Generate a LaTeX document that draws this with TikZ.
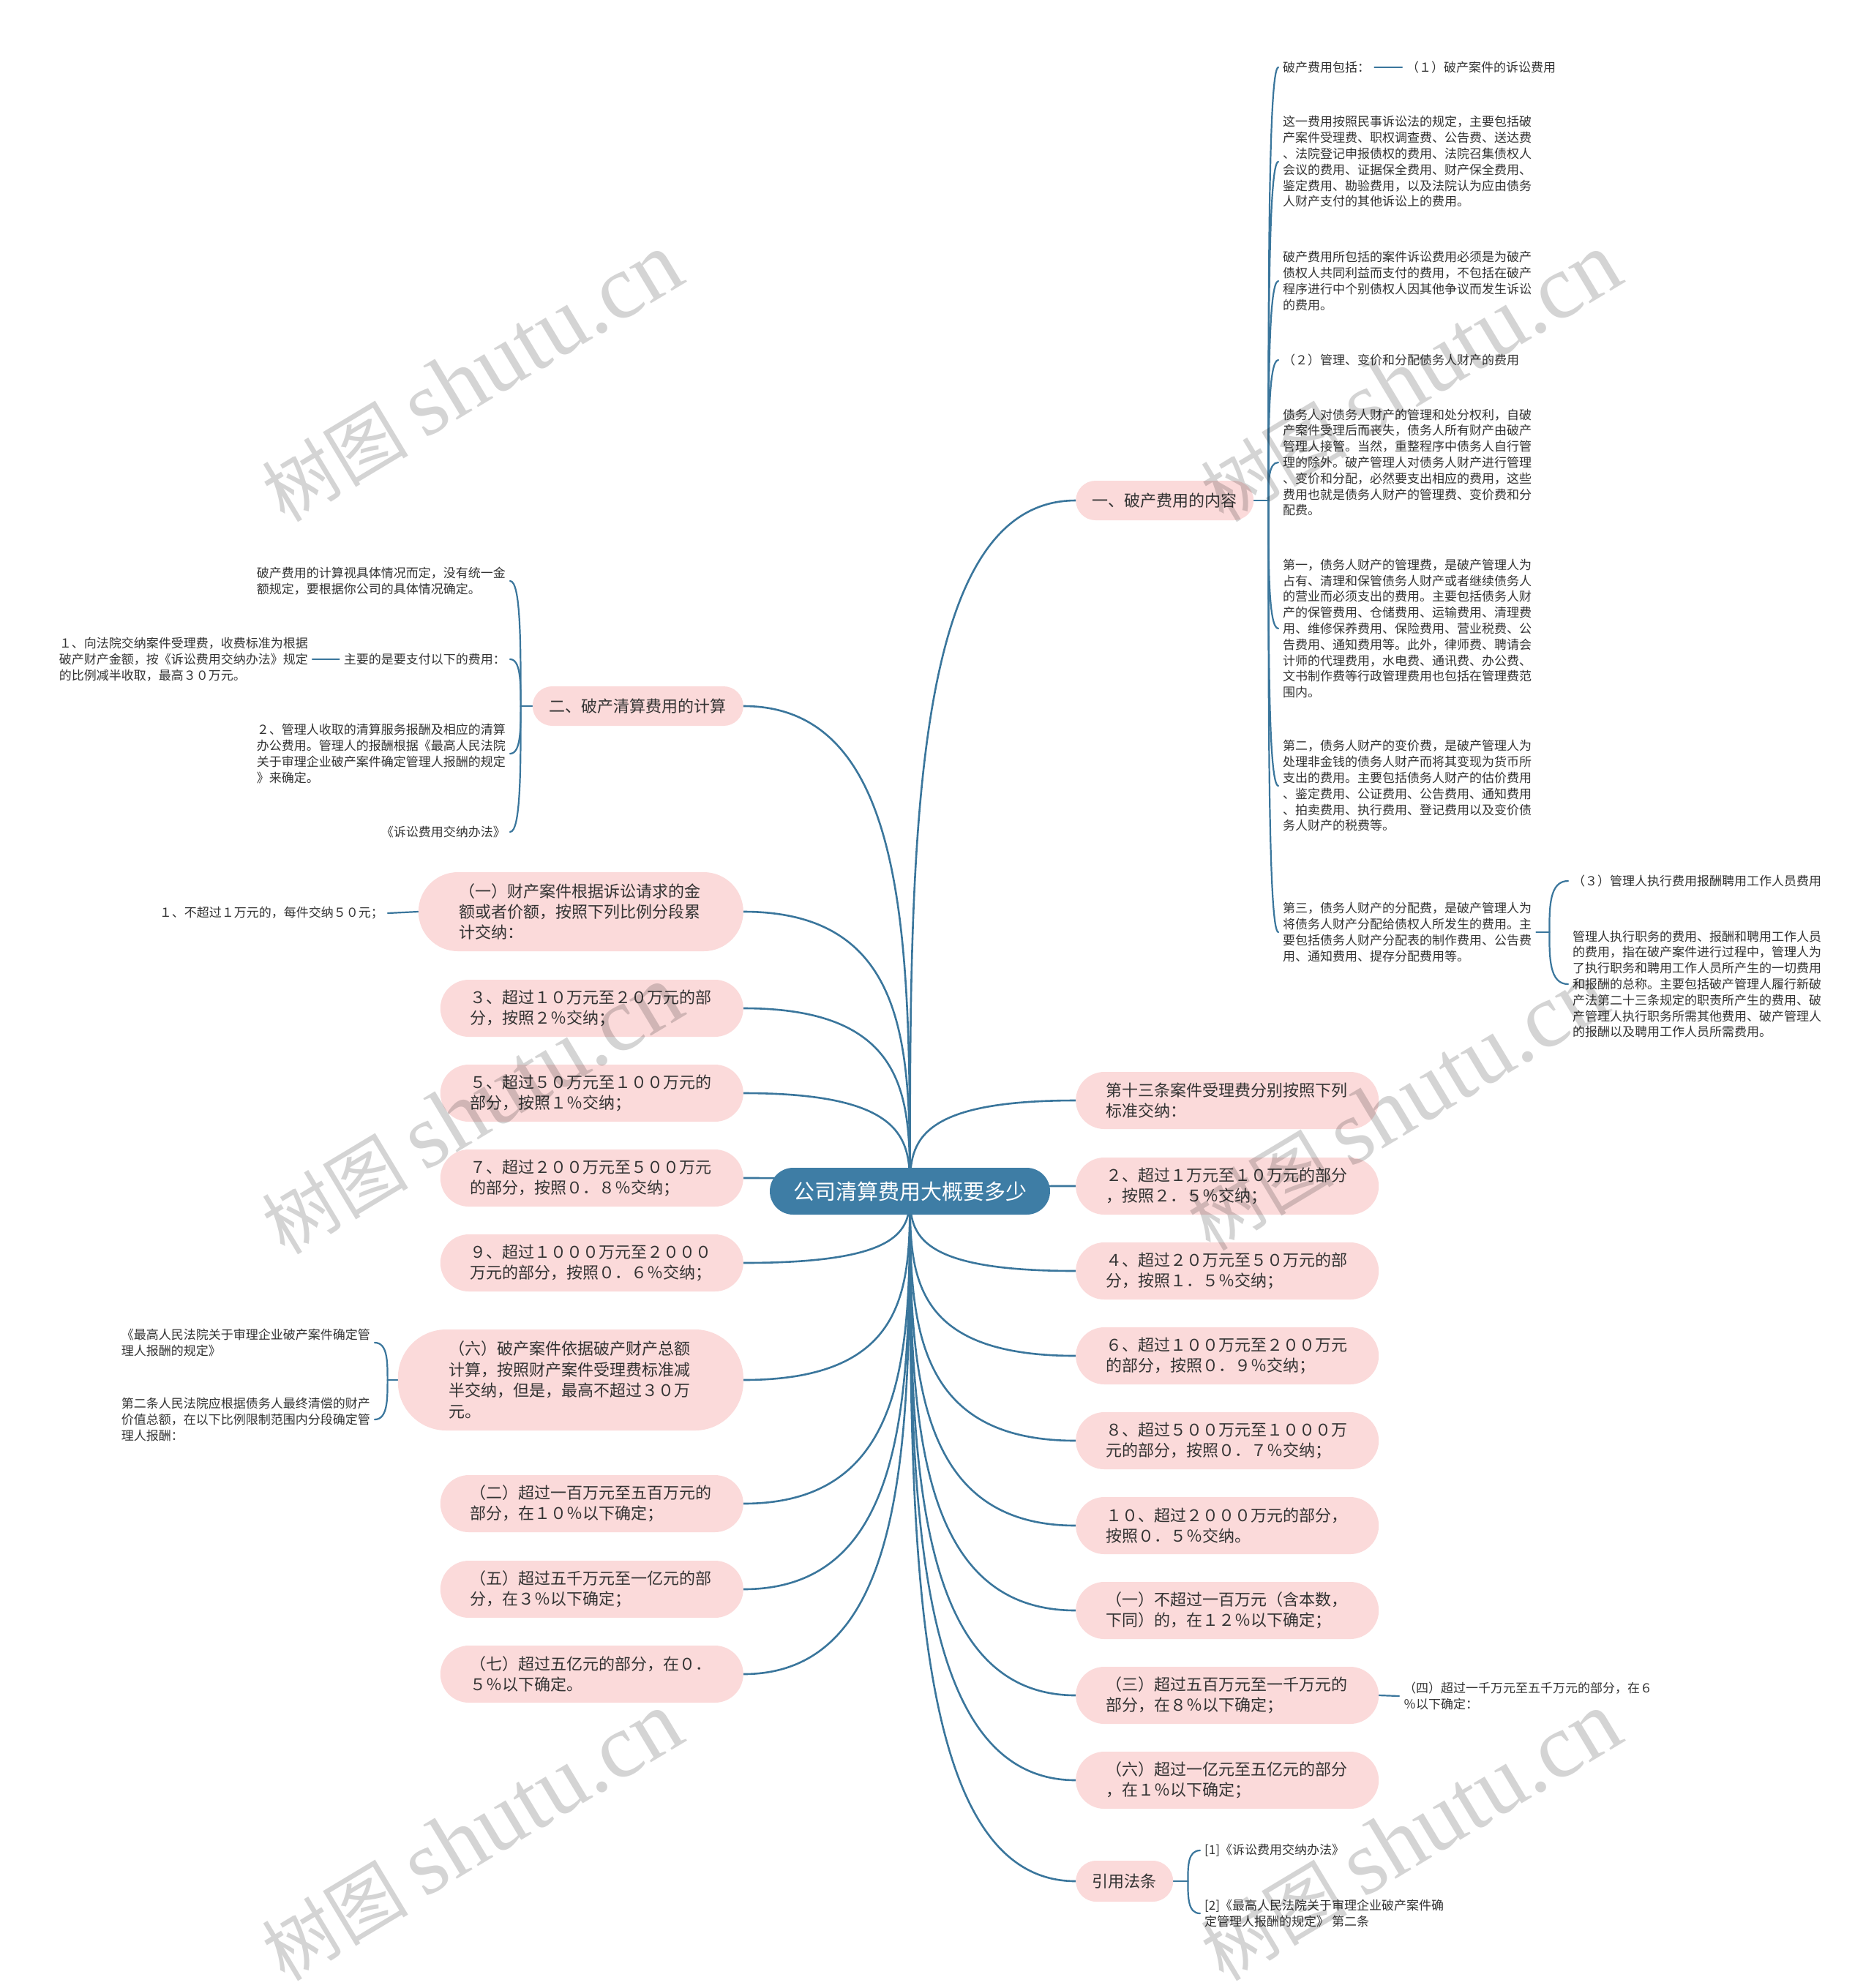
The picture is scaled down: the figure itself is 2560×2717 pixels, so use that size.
\documentclass[tikz,border=0pt]{standalone}
\usepackage{fontspec}
\setmainfont{Noto Sans CJK SC}
\newfontfamily\wmlatin{Liberation Serif}
\usetikzlibrary{calc,backgrounds}
\definecolor{linkc}{HTML}{3A769C}
\definecolor{rootc}{HTML}{3E7DA5}
\definecolor{pinkc}{HTML}{FBDADA}
\definecolor{txtc}{HTML}{333333}
\newcommand\rlink[2]{%
  \path (root.center |- #1.#2) coordinate (rlt);
  \draw[link] (root.center) .. controls ($(root.center)!0.5!(rlt)$) and (rlt) .. (#1.#2);}
\newcommand\blink[3]{%
  \path (#1 |- #2.#3) coordinate (blt);
  \draw[blinkst] (#1) .. controls ($(#1)!0.5!(blt)$) and (blt) .. (#2.#3);}
\begin{document}
\begin{tikzpicture}[x=1pt,y=-1pt,
  link/.style={draw=linkc,line width=2.6pt,line cap=round},
  blinkst/.style={draw=linkc,line width=2.2pt,line cap=round},
  pill/.style={fill=pinkc,rounded corners=39pt,text=txtc,font=\fontsize{22}{28.4}\selectfont,text width=332pt,align=left,inner xsep=41pt,inner ysep=0pt,minimum height=78pt},
  mainnode/.style={fill=pinkc,rounded corners=27pt,text=txtc,font=\fontsize{22}{26}\selectfont,minimum height=54pt,inner xsep=0pt,align=center},
  small/.style={text=txtc,font=\fontsize{17}{21.8}\selectfont,inner xsep=6pt,inner ysep=2pt,align=left},
  wm/.style={text=black,text opacity=0.17,rotate=31,font=\fontsize{100}{100}\selectfont,inner sep=0pt}
]
\useasboundingbox (0,0) rectangle (2560,2717);
% root
\node[fill=rootc,rounded corners=32pt,text=white,font=\fontsize{29}{32}\selectfont,minimum width=383pt,minimum height=64pt,inner sep=0pt] (root) at (1243.5,1628) {公司清算费用大概要多少};
% main branches
\node[mainnode,anchor=west,minimum width=243pt] (ma) at (1470,684) {一、破产费用的内容};
\node[mainnode,anchor=east,minimum width=288pt] (mb) at (1016,965) {二、破产清算费用的计算};
\node[mainnode,anchor=west,minimum width=133pt,minimum height=56pt,rounded corners=28pt] (cite) at (1470,2571) {引用法条};
% right pills
\node[pill,anchor=west] (R1) at (1470,1504) {第十三条案件受理费分别按照下列\\标准交纳：};
\node[pill,anchor=west] (R2) at (1470,1621) {２、超过１万元至１０万元的部分\\，按照２．５％交纳；};
\node[pill,anchor=west] (R3) at (1470,1737) {４、超过２０万元至５０万元的部\\分，按照１．５％交纳；};
\node[pill,anchor=west] (R4) at (1470,1853) {６、超过１００万元至２００万元\\的部分，按照０．９％交纳；};
\node[pill,anchor=west] (R5) at (1470,1969) {８、超过５００万元至１０００万\\元的部分，按照０．７％交纳；};
\node[pill,anchor=west] (R6) at (1470,2085) {１０、超过２０００万元的部分，\\按照０．５％交纳。};
\node[pill,anchor=west] (R7) at (1470,2201) {（一）不超过一百万元（含本数，\\下同）的，在１２％以下确定；};
\node[pill,anchor=west] (R8) at (1470,2317) {（三）超过五百万元至一千万元的\\部分，在８％以下确定；};
\node[pill,anchor=west] (R9) at (1470,2433) {（六）超过一亿元至五亿元的部分\\，在１％以下确定；};
% left pills
\node[pill,anchor=east,minimum height=108pt,inner xsep=56pt,rounded corners=54pt] (L1) at (1016,1246) {（一）财产案件根据诉讼请求的金\\额或者价额，按照下列比例分段累\\计交纳：};
\node[pill,anchor=east] (L2) at (1016,1378) {３、超过１０万元至２０万元的部\\分，按照２％交纳；};
\node[pill,anchor=east] (L3) at (1016,1494) {５、超过５０万元至１００万元的\\部分，按照１％交纳；};
\node[pill,anchor=east] (L4) at (1016,1610) {７、超过２００万元至５００万元\\的部分，按照０．８％交纳；};
\node[pill,anchor=east] (L5) at (1016,1726) {９、超过１０００万元至２０００\\万元的部分，按照０．６％交纳；};
\node[pill,anchor=east,minimum height=138pt,inner xsep=70pt,rounded corners=66pt] (L6) at (1016,1886) {（六）破产案件依据破产财产总额\\计算，按照财产案件受理费标准减\\半交纳，但是，最高不超过３０万\\元。};
\node[pill,anchor=east] (L7) at (1016,2055) {（二）超过一百万元至五百万元的\\部分，在１０％以下确定；};
\node[pill,anchor=east] (L8) at (1016,2172) {（五）超过五千万元至一亿元的部\\分，在３％以下确定；};
\node[pill,anchor=east] (L9) at (1016,2288) {（七）超过五亿元的部分，在０．\\５％以下确定。};
% children of ma
\node[small,anchor=west] (a1) at (1747,92) {破产费用包括：};
\node[small,anchor=west] (a1c) at (1916,92) {（１）破产案件的诉讼费用};
\node[small,anchor=west] (a2) at (1747,221) {这一费用按照民事诉讼法的规定，主要包括破\\产案件受理费、职权调查费、公告费、送达费\\、法院登记申报债权的费用、法院召集债权人\\会议的费用、证据保全费用、财产保全费用、\\鉴定费用、勘验费用，以及法院认为应由债务\\人财产支付的其他诉讼上的费用。};
\node[small,anchor=west] (a3) at (1747,384) {破产费用所包括的案件诉讼费用必须是为破产\\债权人共同利益而支付的费用，不包括在破产\\程序进行中个别债权人因其他争议而发生诉讼\\的费用。};
\node[small,anchor=west] (a4) at (1747,492) {（２）管理、变价和分配债务人财产的费用};
\node[small,anchor=west] (a5) at (1747,632) {债务人对债务人财产的管理和处分权利，自破\\产案件受理后而丧失，债务人所有财产由破产\\管理人接管。当然，重整程序中债务人自行管\\理的除外。破产管理人对债务人财产进行管理\\、变价和分配，必然要支出相应的费用，这些\\费用也就是债务人财产的管理费、变价费和分\\配费。};
\node[small,anchor=west] (a6) at (1747,859) {第一，债务人财产的管理费，是破产管理人为\\占有、清理和保管债务人财产或者继续债务人\\的营业而必须支出的费用。主要包括债务人财\\产的保管费用、仓储费用、运输费用、清理费\\用、维修保养费用、保险费用、营业税费、公\\告费用、通知费用等。此外，律师费、聘请会\\计师的代理费用，水电费、通讯费、办公费、\\文书制作费等行政管理费用也包括在管理费范\\围内。};
\node[small,anchor=west] (a7) at (1747,1074) {第二，债务人财产的变价费，是破产管理人为\\处理非金钱的债务人财产而将其变现为货币所\\支出的费用。主要包括债务人财产的估价费用\\、鉴定费用、公证费用、公告费用、通知费用\\、拍卖费用、执行费用、登记费用以及变价债\\务人财产的税费等。};
\node[small,anchor=west] (a8) at (1747,1274) {第三，债务人财产的分配费，是破产管理人为\\将债务人财产分配给债权人所发生的费用。主\\要包括债务人财产分配表的制作费用、公告费\\用、通知费用、提存分配费用等。};
\node[small,anchor=west] (a8a) at (2143,1204) {（３）管理人执行费用报酬聘用工作人员费用};
\node[small,anchor=west] (a8b) at (2143,1345) {管理人执行职务的费用、报酬和聘用工作人员\\的费用，指在破产案件进行过程中，管理人为\\了执行职务和聘用工作人员所产生的一切费用\\和报酬的总称。主要包括破产管理人履行新破\\产法第二十三条规定的职责所产生的费用、破\\产管理人执行职务所需其他费用、破产管理人\\的报酬以及聘用工作人员所需费用。};
% children of mb
\node[small,anchor=east] (b1) at (697,794) {破产费用的计算视具体情况而定，没有统一金\\额规定，要根据你公司的具体情况确定。};
\node[small,anchor=east] (b2) at (697,901) {主要的是要支付以下的费用：};
\node[small,anchor=east] (b2c) at (427,901) {１、向法院交纳案件受理费，收费标准为根据\\破产财产金额，按《诉讼费用交纳办法》规定\\的比例减半收取，最高３０万元。};
\node[small,anchor=east] (b3) at (697,1030) {２、管理人收取的清算服务报酬及相应的清算\\办公费用。管理人的报酬根据《最高人民法院\\关于审理企业破产案件确定管理人报酬的规定\\》来确定。};
\node[small,anchor=east] (b4) at (697,1137) {《诉讼费用交纳办法》};
% child of L1
\node[small,anchor=east] (l1c) at (530,1248) {１、不超过１万元的，每件交纳５０元；};
% children of L6
\node[small,anchor=east] (l6a) at (512,1835) {《最高人民法院关于审理企业破产案件确定管\\理人报酬的规定》};
\node[small,anchor=east] (l6b) at (512,1940) {第二条人民法院应根据债务人最终清偿的财产\\价值总额，在以下比例限制范围内分段确定管\\理人报酬：};
% child of R8
\node[small,anchor=west] (r8c) at (1912,2318) {（四）超过一千万元至五千万元的部分，在６\\％以下确定：};
% children of cite
\node[small,anchor=west] (c1) at (1640,2529) {[1]《诉讼费用交纳办法》};
\node[small,anchor=west] (c2) at (1640,2615) {[2]《最高人民法院关于审理企业破产案件确\\定管理人报酬的规定》 第二条};
% junctions
\coordinate (ja) at ($(ma.east)+(20,0)$);
\coordinate (jb) at ($(mb.west)+(-16,0)$);
\coordinate (j8) at ($(a8.east)+(18,0)$);
\coordinate (j6) at ($(L6.west)+(-14,0)$);
\coordinate (jc) at ($(cite.east)+(20,0)$);
\begin{scope}[on background layer]
\fill[white] (0,0) rectangle (2560,2717);
\rlink{ma}{west}\rlink{cite}{west}
\rlink{R1}{west}\rlink{R2}{west}\rlink{R3}{west}\rlink{R4}{west}\rlink{R5}{west}
\rlink{R6}{west}\rlink{R7}{west}\rlink{R8}{west}\rlink{R9}{west}
\rlink{mb}{east}
\rlink{L1}{east}\rlink{L2}{east}\rlink{L3}{east}\rlink{L4}{east}\rlink{L5}{east}
\rlink{L6}{east}\rlink{L7}{east}\rlink{L8}{east}\rlink{L9}{east}
\draw[blinkst] (ma.east) -- (ja);
\blink{ja}{a1}{west}\blink{ja}{a2}{west}\blink{ja}{a3}{west}\blink{ja}{a4}{west}
\blink{ja}{a5}{west}\blink{ja}{a6}{west}\blink{ja}{a7}{west}\blink{ja}{a8}{west}
\draw[blinkst] (a1.east) -- (a1c.west);
\draw[blinkst] (a8.east) -- (j8);
\blink{j8}{a8a}{west}\blink{j8}{a8b}{west}
\draw[blinkst] (mb.west) -- (jb);
\blink{jb}{b1}{east}\blink{jb}{b2}{east}\blink{jb}{b3}{east}\blink{jb}{b4}{east}
\draw[blinkst] (b2.west) -- (b2c.east);
\draw[blinkst] (L1.west) -- (l1c.east);
\draw[blinkst] (L6.west) -- (j6);
\blink{j6}{l6a}{east}\blink{j6}{l6b}{east}
\draw[blinkst] (R8.east) -- (r8c.west);
\draw[blinkst] (cite.east) -- (jc);
\blink{jc}{c1}{west}\blink{jc}{c2}{west}
\end{scope}
% watermarks
\node[wm] (w1) at (645,516) {树图 {\wmlatin\fontsize{125}{125}\selectfont shutu.cn}};
\node[wm] (w2) at (1928,516) {树图 {\wmlatin\fontsize{125}{125}\selectfont shutu.cn}};
\node[wm] (w3) at (645,1517) {树图 {\wmlatin\fontsize{125}{125}\selectfont shutu.cn}};
\node[wm] (w4) at (1910,1512) {树图 {\wmlatin\fontsize{125}{125}\selectfont shutu.cn}};
\node[wm] (w5) at (645,2510) {树图 {\wmlatin\fontsize{125}{125}\selectfont shutu.cn}};
\node[wm] (w6) at (1928,2510) {树图 {\wmlatin\fontsize{125}{125}\selectfont shutu.cn}};
\end{tikzpicture}
\end{document}
